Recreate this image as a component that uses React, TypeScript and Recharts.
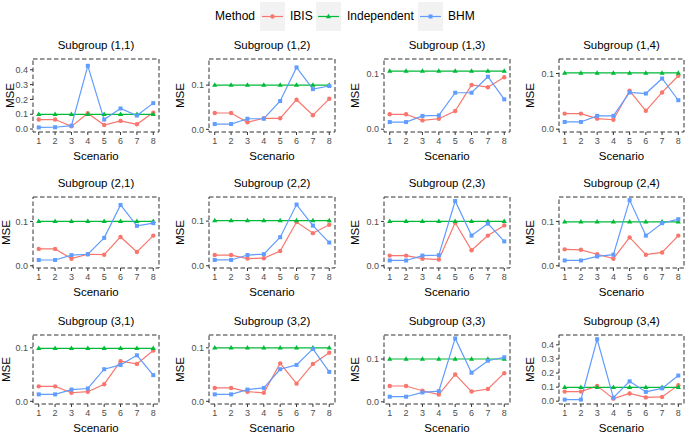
import React from "react";
import { LineChart, Line, XAxis, YAxis, ReferenceArea } from "recharts";

// MSE by scenario for the 12 subgroups (row-major, 3 x 4)
const scenarios = [1, 2, 3, 4, 5, 6, 7, 8];
const subgroups = ["(1,1)", "(1,2)", "(1,3)", "(1,4)", "(2,1)", "(2,2)", "(2,3)", "(2,4)", "(3,1)", "(3,2)", "(3,3)", "(3,4)"];

const ibisMse = [
  [0.064, 0.064, 0.018, 0.107, 0.027, 0.055, 0.032, 0.111],
  [0.037, 0.037, 0.016, 0.025, 0.025, 0.067, 0.032, 0.069],
  [0.027, 0.027, 0.016, 0.019, 0.033, 0.08, 0.076, 0.094],
  [0.028, 0.028, 0.019, 0.017, 0.069, 0.033, 0.066, 0.096],
  [0.038, 0.038, 0.016, 0.026, 0.025, 0.065, 0.031, 0.068],
  [0.024, 0.024, 0.016, 0.017, 0.033, 0.098, 0.073, 0.092],
  [0.023, 0.023, 0.016, 0.014, 0.097, 0.035, 0.068, 0.091],
  [0.037, 0.036, 0.026, 0.016, 0.064, 0.025, 0.03, 0.068],
  [0.028, 0.028, 0.016, 0.018, 0.032, 0.075, 0.07, 0.095],
  [0.025, 0.025, 0.018, 0.016, 0.071, 0.033, 0.07, 0.091],
  [0.037, 0.037, 0.026, 0.017, 0.064, 0.024, 0.03, 0.067],
  [0.068, 0.068, 0.109, 0.018, 0.055, 0.027, 0.03, 0.114],
];

const independentMse = [
  [0.099, 0.099, 0.099, 0.099, 0.099, 0.099, 0.099, 0.099],
  [0.1, 0.1, 0.1, 0.1, 0.1, 0.1, 0.1, 0.1],
  [0.105, 0.105, 0.105, 0.105, 0.105, 0.105, 0.105, 0.105],
  [0.101, 0.101, 0.101, 0.101, 0.101, 0.101, 0.101, 0.101],
  [0.1, 0.1, 0.1, 0.1, 0.1, 0.1, 0.1, 0.1],
  [0.101, 0.101, 0.101, 0.101, 0.101, 0.101, 0.101, 0.101],
  [0.1, 0.1, 0.1, 0.1, 0.1, 0.1, 0.1, 0.1],
  [0.099, 0.099, 0.099, 0.099, 0.099, 0.099, 0.099, 0.099],
  [0.099, 0.099, 0.099, 0.099, 0.099, 0.099, 0.099, 0.099],
  [0.1, 0.1, 0.1, 0.1, 0.1, 0.1, 0.1, 0.1],
  [0.1, 0.1, 0.1, 0.1, 0.1, 0.1, 0.1, 0.1],
  [0.098, 0.098, 0.098, 0.098, 0.098, 0.098, 0.098, 0.098],
];

const bhmMse = [
  [0.011, 0.012, 0.023, 0.427, 0.064, 0.139, 0.091, 0.175],
  [0.012, 0.012, 0.024, 0.024, 0.064, 0.14, 0.091, 0.098],
  [0.013, 0.013, 0.024, 0.025, 0.066, 0.066, 0.095, 0.054],
  [0.013, 0.013, 0.024, 0.024, 0.066, 0.064, 0.091, 0.052],
  [0.013, 0.013, 0.024, 0.026, 0.063, 0.137, 0.09, 0.096],
  [0.013, 0.013, 0.024, 0.026, 0.064, 0.137, 0.09, 0.052],
  [0.012, 0.012, 0.023, 0.024, 0.146, 0.068, 0.095, 0.055],
  [0.012, 0.012, 0.021, 0.025, 0.148, 0.068, 0.096, 0.105],
  [0.013, 0.013, 0.022, 0.024, 0.06, 0.068, 0.086, 0.049],
  [0.013, 0.013, 0.022, 0.025, 0.06, 0.068, 0.098, 0.055],
  [0.012, 0.012, 0.022, 0.025, 0.148, 0.068, 0.096, 0.104],
  [0.011, 0.011, 0.44, 0.025, 0.141, 0.066, 0.091, 0.182],
];

const yLimits = [
  [-0.02, 0.473], [-0.006, 0.159], [-0.005, 0.127], [-0.005, 0.126],
  [-0.005, 0.155], [-0.005, 0.154], [-0.005, 0.155], [-0.005, 0.155],
  [-0.005, 0.124], [-0.005, 0.124], [-0.005, 0.156], [-0.02, 0.47],
];
const wideTicks = [0, 0.1, 0.2, 0.3, 0.4];
const narrowTicks = [0, 0.1];
const xLimits = [0.65, 8.35];

const IBIS = "#F8766D";
const IND = "#00BA38";
const BHM = "#619CFF";

const PLOT_LEFT = [33, 209, 384, 559];
const PLOT_W = [126, 126, 126, 125];
const PLOT_TOP = [59, 197, 335];
const PLOT_H = [73, 71, 69];

const circleDot = (props: any) => (
  <circle key={`c-${props.index}`} cx={props.cx} cy={props.cy} r={2.2} fill={IBIS} />
);
const triangleDot = (props: any) => {
  const { cx, cy } = props;
  return (
    <polygon key={`t-${props.index}`} points={`${cx},${cy - 2.8} ${cx - 2.6},${cy + 1.7} ${cx + 2.6},${cy + 1.7}`} fill={IND} />
  );
};
const squareDot = (props: any) => (
  <rect key={`s-${props.index}`} x={props.cx - 2} y={props.cy - 2} width={4} height={4} fill={BHM} />
);

function Panel({ idx }: { idx: number }) {
  const row = Math.floor(idx / 4);
  const col = idx % 4;
  const left = PLOT_LEFT[col];
  const top = PLOT_TOP[row];
  const w = PLOT_W[col];
  const h = PLOT_H[row];
  const ML = 45, MT = 5, MR = 5, MB = 35;
  const [lo, hi] = yLimits[idx];
  const ticks = hi > 0.3 ? wideTicks : narrowTicks;
  // distance of the "MSE" label centre from the panel's left edge
  const labelGap = idx === 0 ? 23 : col === 0 ? 27 : 29;

  const data = scenarios.map((s, i) => ({
    s,
    ibis: ibisMse[idx][i],
    ind: independentMse[idx][i],
    bhm: bhmMse[idx][i],
  }));

  return (
    <>
      <div style={{ position: "absolute", left, width: w, top: top - 21, textAlign: "center", fontSize: 11.5, lineHeight: "14px", color: "#000" }}>
        Subgroup {subgroups[idx]}
      </div>
      <div style={{ position: "absolute", left: left - ML, top: top - MT }}>
        <LineChart width={w + ML + MR} height={h + MT + MB} data={data} margin={{ top: MT, right: MR, bottom: 0, left: 0 }}>
          <XAxis
            dataKey="s"
            type="number"
            domain={xLimits}
            ticks={scenarios}
            allowDataOverflow
            interval={0}
            axisLine={false}
            tickSize={3}
            tickMargin={3}
            height={MB}
            tick={{ fontSize: 9, fill: "#4d4d4d" }}
            tickLine={{ stroke: "#333" }}
            label={{ value: "Scenario", position: "insideBottom", offset: 7, style: { fontSize: 11.5, fill: "#000" } }}
          />
          <YAxis
            type="number"
            domain={[lo, hi]}
            ticks={ticks}
            allowDataOverflow
            interval={0}
            axisLine={false}
            width={ML}
            tickSize={3}
            tickMargin={2}
            tickFormatter={(v: number) => v.toFixed(1)}
            tick={{ fontSize: 9, fill: "#4d4d4d" }}
            tickLine={{ stroke: "#333" }}
            label={{ value: "MSE", angle: -90, position: "insideLeft", offset: ML - labelGap, style: { fontSize: 11.5, fill: "#000", textAnchor: "middle" } }}
          />
          <ReferenceArea x1={xLimits[0]} x2={xLimits[1]} y1={lo} y2={hi} fill="none" fillOpacity={0} stroke="#333" strokeWidth={1} strokeDasharray="4.5 2.5" ifOverflow="visible" />
          <Line dataKey="ibis" stroke={IBIS} strokeWidth={1.2} dot={circleDot} activeDot={false} isAnimationActive={false} />
          <Line dataKey="ind" stroke={IND} strokeWidth={1.2} dot={triangleDot} activeDot={false} isAnimationActive={false} />
          <Line dataKey="bhm" stroke={BHM} strokeWidth={1.2} dot={squareDot} activeDot={false} isAnimationActive={false} />
        </LineChart>
      </div>
    </>
  );
}

function LegendKey({ left, color, shape }: { left: number; color: string; shape: string }) {
  return (
    <svg style={{ position: "absolute", left, top: 2 }} width={25} height={29}>
      <rect x={0} y={0} width={25} height={29} fill="#f2f2f2" />
      <line x1={2} x2={23} y1={14.5} y2={14.5} stroke={color} strokeWidth={1.2} />
      {shape === "circle" && <circle cx={12.5} cy={14.5} r={2.2} fill={color} />}
      {shape === "triangle" && <polygon points="12.5,11.7 9.9,16.2 15.1,16.2" fill={color} />}
      {shape === "square" && <rect x={10.5} y={12.5} width={4} height={4} fill={color} />}
    </svg>
  );
}

function Legend() {
  const text = { position: "absolute" as const, top: 9, fontSize: 12, lineHeight: "15px", color: "#000" };
  return (
    <>
      <div style={{ ...text, left: 215 }}>Method</div>
      <LegendKey left={260} color={IBIS} shape="circle" />
      <div style={{ ...text, left: 290 }}>IBIS</div>
      <LegendKey left={316} color={IND} shape="triangle" />
      <div style={{ ...text, left: 347 }}>Independent</div>
      <LegendKey left={418} color={BHM} shape="square" />
      <div style={{ ...text, left: 448 }}>BHM</div>
    </>
  );
}

export default function App() {
  return (
    <div style={{ position: "fixed", left: 0, top: 0, width: 685, height: 435, background: "#fff", overflow: "hidden", fontFamily: "'Liberation Sans', Arial, sans-serif" }}>
      <Legend />
      {subgroups.map((_, i) => (
        <Panel key={i} idx={i} />
      ))}
    </div>
  );
}
